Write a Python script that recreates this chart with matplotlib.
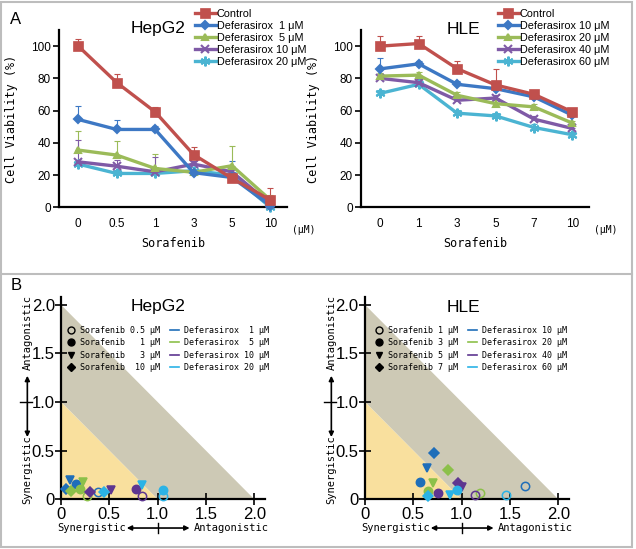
import matplotlib
matplotlib.use('Agg')
import matplotlib.pyplot as plt
import matplotlib.transforms as mtransforms
from matplotlib.lines import Line2D
from matplotlib.patches import Polygon, Rectangle

plt.rcParams['font.family'] = ['Liberation Sans', 'DejaVu Sans']

W, H = 636, 549

# ---- panel A : cell viability ----
hep_doses = ['0', '0.5', '1', '3', '5', '10']
hep_names = ['Control', 'Deferasirox  1 μM', 'Deferasirox  5 μM',
             'Deferasirox 10 μM', 'Deferasirox 20 μM']
hep_control = [100, 77.4, 59.2, 32.7, 18, 4.5]
hep_def1 = [54.5, 48.3, 48.3, 21.5, 18.5, 1]
hep_def5 = [35.5, 32.4, 24.1, 21.7, 25.8, 4.5]
hep_def10 = [28.2, 25.5, 22, 26.8, 22, 2]
hep_def20 = [26.8, 21, 21, 22.7, 20, 0]
hep_err_control = [4.5, 5.5, 3, 5, 2, 7.5]
hep_err_def1 = [8.5, 6, 2, 2, 10, 2]
hep_err_def5 = [12, 9, 9, 2, 12, 3]
hep_err_def10 = [13.4, 4, 9, 2, 2, 2]
hep_err_def20 = [2, 2, 2, 2, 2, 2]

hle_doses = ['0', '1', '3', '5', '7', '10']
hle_names = ['Control', 'Deferasirox 10 μM', 'Deferasirox 20 μM',
             'Deferasirox 40 μM', 'Deferasirox 60 μM']
hle_control = [100, 101.6, 86, 75.9, 70.1, 59.2]
hle_def10 = [85.9, 89, 76.3, 73.6, 68.5, 57.1]
hle_def20 = [81.4, 82, 69.5, 64.3, 62.3, 52.2]
hle_def40 = [80, 77.3, 66.4, 67.8, 54.7, 48.9]
hle_def60 = [70.7, 76.3, 58.4, 56.7, 49.5, 45]
hle_err_control = [6, 4.5, 5, 10, 2, 1.5]
hle_err_def10 = [7, 2, 2, 2, 2, 1.5]
hle_err_def20 = [2, 2, 2, 2, 2, 1.5]
hle_err_def40 = [2, 2, 2, 2, 2, 1.5]
hle_err_def60 = [2, 2, 2, 2, 2, 1.5]

# ---- panel B : isobologram (x, y) ----
hep_iso_labels = ['Sorafenib 0.5 μM', 'Sorafenib   1 μM', 'Sorafenib   3 μM', 'Sorafenib  10 μM',
                  'Deferasirox  1 μM', 'Deferasirox  5 μM', 'Deferasirox 10 μM', 'Deferasirox 20 μM']
hep_iso_x = {'blue': [0.38, 0.155, 0.09, 0.05],
             'green': [0.27, 0.2, 0.23, 0.1],
             'purple': [0.84, 0.78, 0.52, 0.3],
             'cyan': [1.06, 1.06, 0.84, 0.44]}
hep_iso_y = {'blue': [0.08, 0.16, 0.2, 0.11],
             'green': [0.03, 0.11, 0.18, 0.09],
             'purple': [0.035, 0.11, 0.1, 0.076],
             'cyan': [0.03, 0.1, 0.145, 0.076]}

hle_iso_labels = ['Sorafenib 1 μM', 'Sorafenib 3 μM', 'Sorafenib 5 μM', 'Sorafenib 7 μM',
                  'Deferasirox 10 μM', 'Deferasirox 20 μM', 'Deferasirox 40 μM', 'Deferasirox 60 μM']
hle_iso_x = {'blue': [1.66, 0.57, 0.64, 0.71],
             'green': [1.19, 0.65, 0.70, 0.86],
             'purple': [1.14, 0.75, 1.0, 0.96],
             'cyan': [1.46, 0.95, 0.88, 0.65]}
hle_iso_y = {'blue': [0.14, 0.18, 0.32, 0.48],
             'green': [0.06, 0.086, 0.165, 0.30],
             'purple': [0.04, 0.062, 0.13, 0.165],
             'cyan': [0.04, 0.096, 0.045, 0.03]}

line_colors = ['#C0504D', '#3D78C4', '#9BBB59', '#7F5AA6', '#4BB4D2']
line_markers = ['s', 'D', '^', 'x', (6, 2, 0)]
line_msizes = [6.5, 4, 5, 6, 7]
iso_colors = {'blue': '#1F6EB9', 'green': '#8CC04A', 'purple': '#5E3690', 'cyan': '#2BB3E6'}
iso_markers = ['o', 'o', 'v', 'D']

mono = 'DejaVu Sans Mono'


def fig_pos(x, y):
    return x / W, 1 - y / H


def viability_panel(fig, left_px, doses, names, series, errors, title, title_x, leg_x):
    ax = fig.add_axes([left_px / W, 1 - 207.3 / H, 228 / W, 177.3 / H])
    xs = list(range(len(doses)))
    for i in range(len(series)):
        ax.errorbar(xs, series[i], yerr=[[0] * len(xs), errors[i]], fmt='none',
                    ecolor=line_colors[i], elinewidth=0.8, capsize=2, capthick=0.8,
                    zorder=2 + i)
    handles = []
    for i in range(len(series)):
        h, = ax.plot(xs, series[i], color=line_colors[i], lw=2.4, marker=line_markers[i],
                     ms=line_msizes[i], mew=1.5 if line_markers[i] != 's' else 0.5,
                     clip_on=False, zorder=10 - i, label=names[i])
        handles.append(h)
    ax.set_xlim(-0.5, 5.43)
    ax.set_ylim(0, 110)
    ax.set_xticks(xs)
    ax.set_xticklabels(doses, fontsize=8.5)
    ax.set_yticks([0, 20, 40, 60, 80, 100])
    ax.tick_params(axis='x', length=0, pad=8)
    ax.tick_params(axis='y', length=4, width=1.2, labelsize=8.5, pad=2)
    for s in ['top', 'right']:
        ax.spines[s].set_visible(False)
    for s in ['left', 'bottom']:
        ax.spines[s].set_linewidth(1.6)
    ax.set_xlabel('Sorafenib', family=mono, fontsize=8.5, labelpad=5)
    ax.set_ylabel('Cell Viability (%)', family=mono, fontsize=8.5, labelpad=9)
    ax.text(1.02, -0.13, '(μM)', transform=ax.transAxes, family=mono, fontsize=7,
            va='center', ha='left')
    fig.text(*fig_pos(title_x, 29), title, fontsize=12.5, ha='center', va='center')
    fig.legend(handles=handles, loc='upper left', bbox_to_anchor=fig_pos(leg_x, 9),
               frameon=False, fontsize=7.8, handlelength=1.9, handletextpad=0.1,
               labelspacing=0.18, borderpad=0, borderaxespad=0)
    return ax


def iso_panel(fig, left_px, xs, ys, labels, title, title_x, leg_x):
    ax = fig.add_axes([left_px / W, 1 - 499.3 / H, 204 / W, 202.3 / H])
    ax.add_patch(Polygon([(1, 0), (2, 0), (0, 2), (0, 1)], closed=True,
                         fc='#CDC9B5', ec='none', zorder=0))
    ax.add_patch(Polygon([(0, 0), (1, 0), (0, 1)], closed=True,
                         fc='#F9E09E', ec='none', zorder=0))
    for key in ['blue', 'green', 'purple', 'cyan']:
        for j in range(4):
            filled = j > 0
            ax.plot(xs[key][j], ys[key][j], ls='none', marker=iso_markers[j],
                    ms=6 if iso_markers[j] != 'D' else 5,
                    mfc=iso_colors[key] if filled else 'none',
                    mec=iso_colors[key], mew=1.1, clip_on=False, zorder=5)
    ax.set_xlim(0, 2.11)
    ax.set_ylim(0, 2.08)
    ticks = [0, 0.5, 1, 1.5, 2]
    tick_labels = ['0', '0.5', '1.0', '1.5', '2.0']
    ax.set_xticks(ticks)
    ax.set_xticklabels(tick_labels)
    ax.set_yticks(ticks)
    ax.set_yticklabels(tick_labels)
    ax.tick_params(direction='inout', length=9, width=1.2, labelsize=12, pad=0)
    ax.tick_params(axis='x', pad=1)
    for s in ['top', 'right']:
        ax.spines[s].set_visible(False)
    for s in ['left', 'bottom']:
        ax.spines[s].set_linewidth(1.6)

    ty = mtransforms.blended_transform_factory(ax.transAxes, ax.transData)
    tx = mtransforms.blended_transform_factory(ax.transData, ax.transAxes)
    ax.text(-0.165, 1.71, 'Antagonistic', transform=ty, rotation=90, family=mono,
            fontsize=7.5, ha='center', va='center')
    ax.text(-0.165, 0.30, 'Synergistic', transform=ty, rotation=90, family=mono,
            fontsize=7.5, ha='center', va='center')
    ax.annotate('', xy=(-0.165, 1.27), xytext=(-0.165, 0.64), xycoords=ty, textcoords=ty,
                arrowprops=dict(arrowstyle='<|-|>', color='black', lw=1.2,
                                mutation_scale=7, shrinkA=0, shrinkB=0),
                annotation_clip=False)
    ax.plot([-0.2, -0.14], [1, 1], transform=ty, color='black', lw=1, clip_on=False)
    ax.text(0.32, -0.142, 'Synergistic', transform=tx, family=mono,
            fontsize=7.5, ha='center', va='center')
    ax.text(1.76, -0.142, 'Antagonistic', transform=tx, family=mono,
            fontsize=7.5, ha='center', va='center')
    ax.annotate('', xy=(0.68, -0.142), xytext=(1.33, -0.142), xycoords=tx, textcoords=tx,
                arrowprops=dict(arrowstyle='<|-|>', color='black', lw=1.2,
                                mutation_scale=7, shrinkA=0, shrinkB=0),
                annotation_clip=False)
    ax.plot([1, 1], [-0.117, -0.167], transform=tx, color='black', lw=1, clip_on=False)

    fig.text(*fig_pos(title_x, 307), title, fontsize=12.5, ha='center', va='center')
    handles = []
    for j in range(4):
        handles.append(Line2D([], [], ls='none', marker=iso_markers[j], ms=5 if j < 3 else 4.5,
                              mfc='black' if j > 0 else 'none', mec='black', mew=1))
    for key in ['blue', 'green', 'purple', 'cyan']:
        handles.append(Line2D([], [], color=iso_colors[key], lw=1.2))
    fig.legend(handles=handles, labels=labels, loc='upper left', ncol=2,
               bbox_to_anchor=fig_pos(leg_x, 326), frameon=False,
               prop={'family': mono, 'size': 6}, handlelength=1.1, handletextpad=0.6,
               labelspacing=0.4, columnspacing=1.2, borderpad=0, borderaxespad=0)
    return ax


fig = plt.figure(figsize=(W / 100, H / 100), dpi=100)

viability_panel(fig, 59, hep_doses, hep_names,
                [hep_control, hep_def1, hep_def5, hep_def10, hep_def20],
                [hep_err_control, hep_err_def1, hep_err_def5, hep_err_def10, hep_err_def20],
                'HepG2', 158, 195)
viability_panel(fig, 361, hle_doses, hle_names,
                [hle_control, hle_def10, hle_def20, hle_def40, hle_def60],
                [hle_err_control, hle_err_def10, hle_err_def20, hle_err_def40, hle_err_def60],
                'HLE', 463, 498)

iso_panel(fig, 61, hep_iso_x, hep_iso_y, hep_iso_labels, 'HepG2', 158, 66)
iso_panel(fig, 365, hle_iso_x, hle_iso_y, hle_iso_labels, 'HLE', 463, 374)

fig.text(*fig_pos(16, 20), 'A', fontsize=12, ha='center', va='center')
fig.text(*fig_pos(16, 285), 'B', fontsize=12, ha='center', va='center')

fig.add_artist(Rectangle(fig_pos(1, 547), 631 / W, 545 / H, transform=fig.transFigure,
                         fill=False, ec='#BDBDBD', lw=1.5))
fig.add_artist(Line2D([1 / W, 632 / W], [1 - 274 / H] * 2, transform=fig.transFigure,
                      color='#BDBDBD', lw=1.5))

fig.savefig('out.png', dpi=100)
